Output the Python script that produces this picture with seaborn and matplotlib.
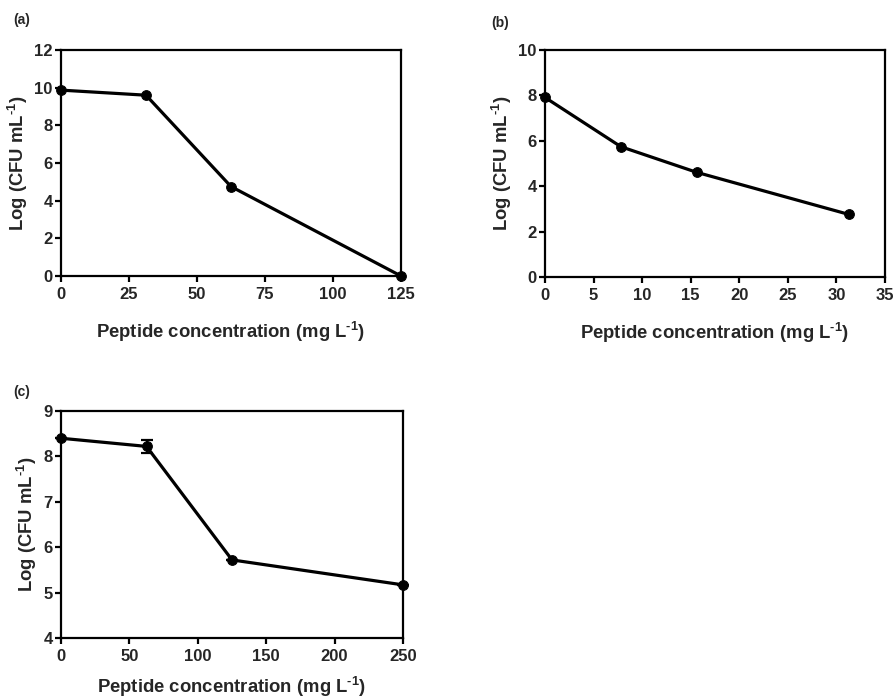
import matplotlib
matplotlib.use("Agg")
import matplotlib.pyplot as plt
import seaborn as sns
import pandas as pd
import numpy as np

sns.set_style("white")
plt.rcParams['font.family'] = ['Liberation Sans', 'DejaVu Sans']
plt.rcParams['font.weight'] = 'bold'
plt.rcParams['mathtext.fontset'] = 'custom'
plt.rcParams['mathtext.rm'] = 'Liberation Sans:bold'
plt.rcParams['mathtext.bf'] = 'Liberation Sans:bold'
plt.rcParams['mathtext.it'] = 'Liberation Sans:bold'

# Panel (a)
conc_a = [0, 31.25, 62.5, 125]
log_a = [9.87, 9.6, 4.75, 0.0]
# Panel (b)
conc_b = [0, 7.8125, 15.625, 31.25]
log_b = [7.91, 5.74, 4.61, 2.76]
# Panel (c)
conc_c = [0, 62.5, 125, 250]
log_c = [8.40, 8.22, 5.72, 5.17]
err_c = [0.0, 0.14, 0.0, 0.0]

xlim_a, xticks_a = (0, 125), [0, 25, 50, 75, 100, 125]
ylim_a, yticks_a = (0, 12), [0, 2, 4, 6, 8, 10, 12]
xlim_b, xticks_b = (0, 35), [0, 5, 10, 15, 20, 25, 30, 35]
ylim_b, yticks_b = (0, 10), [0, 2, 4, 6, 8, 10]
xlim_c, xticks_c = (0, 250), [0, 50, 100, 150, 200, 250]
ylim_c, yticks_c = (4, 9), [4, 5, 6, 7, 8, 9]

panel_labels = ['(a)', '(b)', '(c)']
xlabel = r'Peptide concentration (mg L$^{\text{-}1}$)'
ylabel = r'Log (CFU mL$^{\text{-}1}$)'

W, H = 893, 700
fig = plt.figure(figsize=(W / 100, H / 100), dpi=100)

def rect(l, t, r, b):
    return [l / W, 1 - b / H, (r - l) / W, (b - t) / H]

ax_a = fig.add_axes(rect(61, 50, 401, 276))
ax_b = fig.add_axes(rect(545, 50, 885, 277))
ax_c = fig.add_axes(rect(61, 411, 403, 638))

specs = [
    (ax_a, conc_a, log_a, None, xlim_a, xticks_a, ylim_a, yticks_a, 13),
    (ax_b, conc_b, log_b, None, xlim_b, xticks_b, ylim_b, yticks_b, 13),
    (ax_c, conc_c, log_c, err_c, xlim_c, xticks_c, ylim_c, yticks_c, 8),
]

for ax, x, y, e, xl, xt, yl, yt, lp in specs:
    df = pd.DataFrame({'x': x, 'y': y})
    sns.lineplot(data=df, x='x', y='y', ax=ax, color='black', linewidth=2.3,
                 marker='o', markersize=7, markeredgecolor='black', clip_on=False)
    if e is not None:
        ax.errorbar(x, y, yerr=e, fmt='none', ecolor='black', elinewidth=1.6,
                    capsize=4, capthick=1.6, clip_on=False)
    ax.set_xlim(*xl)
    ax.set_ylim(*yl)
    ax.set_xticks(xt)
    ax.set_yticks(yt)
    for s in ax.spines.values():
        s.set_linewidth(1.6)
        s.set_color('black')
    ax.tick_params(axis='both', which='major', direction='out', length=4, width=1.6,
                   labelsize=12, color='black', bottom=True, left=True, pad=2)
    ax.tick_params(axis='x', pad=4)
    for lab in ax.get_xticklabels() + ax.get_yticklabels():
        lab.set_fontweight('bold')
    ax.set_xlabel(xlabel, fontsize=13.3, fontweight='bold', labelpad=lp)
    ax.set_ylabel(ylabel, fontsize=13.3, fontweight='bold', labelpad=3)

fig.text(13 / W, 1 - 20 / H, panel_labels[0], fontsize=10, fontweight='bold', va='center')
fig.text(491 / W, 1 - 23 / H, panel_labels[1], fontsize=10, fontweight='bold', va='center')
fig.text(13 / W, 1 - 392 / H, panel_labels[2], fontsize=10, fontweight='bold', va='center')

fig.savefig('out.png', dpi=100)
